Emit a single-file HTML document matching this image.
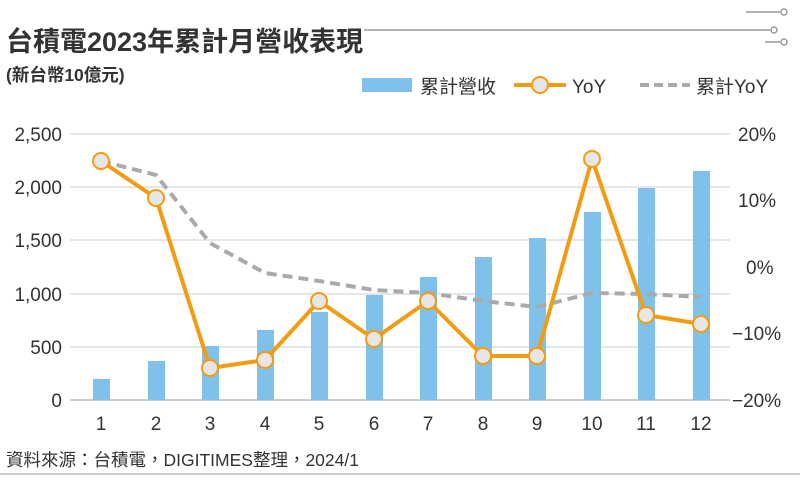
<!DOCTYPE html>
<html><head><meta charset="utf-8"><style>
body{margin:0;background:#fff;}
svg text{font-family:"Liberation Sans","Noto Sans CJK TC",sans-serif;}
</style></head><body>
<svg width="800" height="480" xmlns="http://www.w3.org/2000/svg">
<rect width="800" height="480" fill="#fff"/>
<text x="6" y="51" font-size="27" font-weight="bold" fill="#333">台積電2023年累計月營收表現</text>
<line x1="364" y1="30" x2="752" y2="30" stroke="#999" stroke-width="1.5"/>
<g stroke="#999" stroke-width="1.5" fill="#fff">
<line x1="752" y1="30" x2="770" y2="30"/><line x1="746" y1="12" x2="780" y2="12"/><line x1="765" y1="42" x2="780" y2="42"/>
<circle cx="784" cy="12" r="3"/><circle cx="774" cy="30" r="3"/><circle cx="784" cy="42" r="3"/>
</g>
<text x="6" y="81" font-size="17.5" font-weight="bold" fill="#333">(新台幣10億元)</text>
<rect x="362" y="78" width="50" height="14" fill="#7fc1ea"/>
<text x="420" y="93" font-size="19" fill="#333">累計營收</text>
<line x1="514" y1="85" x2="566" y2="85" stroke="#f39c12" stroke-width="4"/>
<circle cx="540" cy="85" r="8" fill="#e6e6e6" stroke="#f39c12" stroke-width="2"/>
<text x="572" y="93" font-size="19" fill="#333">YoY</text>
<line x1="640" y1="85" x2="690" y2="85" stroke="#aaa" stroke-width="4" stroke-dasharray="9,5"/>
<text x="696" y="93" font-size="19" fill="#333">累計YoY</text>
<g stroke="#ccc" stroke-width="1">
<line x1="70" y1="134" x2="730" y2="134"/><line x1="70" y1="187" x2="730" y2="187"/>
<line x1="70" y1="240" x2="730" y2="240"/><line x1="70" y1="294" x2="730" y2="294"/>
<line x1="70" y1="347" x2="730" y2="347"/>
</g>
<line x1="70" y1="400" x2="730" y2="400" stroke="#999" stroke-width="1"/>
<g font-size="19" fill="#333" text-anchor="end">
<text x="62" y="141">2,500</text><text x="62" y="194">2,000</text><text x="62" y="247">1,500</text>
<text x="62" y="301">1,000</text><text x="62" y="354">500</text><text x="62" y="407">0</text>
</g>
<g font-size="19" fill="#333" text-anchor="start">
<text x="738" y="141">20%</text><text x="738" y="207">10%</text><text x="746" y="274">0%</text>
<text x="732" y="340">−10%</text><text x="732" y="407">−20%</text>
</g>
<g fill="#7fc1ea">
<rect x="93" y="379" width="17" height="21"/><rect x="148" y="361" width="17" height="39"/>
<rect x="202" y="346" width="17" height="54"/><rect x="257" y="330" width="17" height="70"/>
<rect x="311" y="312" width="17" height="88"/><rect x="366" y="295" width="17" height="105"/>
<rect x="420" y="277" width="17" height="123"/><rect x="475" y="257" width="17" height="143"/>
<rect x="529" y="238" width="17" height="162"/><rect x="584" y="212" width="17" height="188"/>
<rect x="638" y="188" width="17" height="212"/><rect x="693" y="171" width="17" height="229"/>
</g>
<polyline fill="none" stroke="#aaa" stroke-width="4" stroke-dasharray="10,6" points="101,161 156,175 210,243 265,273 319,281 374,290 428,293 483,301 537,307 592,293 646,294 701,297"/>
<polyline fill="none" stroke="#f39c12" stroke-width="4" stroke-linejoin="round" points="101,161 156,198 210,368 265,360 319,301 374,339 428,301 483,356 537,356 592,159 646,315 701,324"/>
<g fill="#e6e6e6" stroke="#f39c12" stroke-width="2">
<circle cx="101" cy="161" r="8"/><circle cx="156" cy="198" r="8"/><circle cx="210" cy="368" r="8"/>
<circle cx="265" cy="360" r="8"/><circle cx="319" cy="301" r="8"/><circle cx="374" cy="339" r="8"/>
<circle cx="428" cy="301" r="8"/><circle cx="483" cy="356" r="8"/><circle cx="537" cy="356" r="8"/>
<circle cx="592" cy="159" r="8"/><circle cx="646" cy="315" r="8"/><circle cx="701" cy="324" r="8"/>
</g>
<g font-size="19" fill="#333" text-anchor="middle">
<text x="101" y="430">1</text><text x="156" y="430">2</text><text x="210" y="430">3</text>
<text x="265" y="430">4</text><text x="319" y="430">5</text><text x="374" y="430">6</text>
<text x="428" y="430">7</text><text x="483" y="430">8</text><text x="537" y="430">9</text>
<text x="592" y="430">10</text><text x="646" y="430">11</text><text x="701" y="430">12</text>
</g>
<text x="6" y="466" font-size="17.5" fill="#333">資料來源：台積電，DIGITIMES整理，2024/1</text>
<line x1="0" y1="474" x2="800" y2="474" stroke="#999" stroke-width="1"/>
</svg>
</body></html>
